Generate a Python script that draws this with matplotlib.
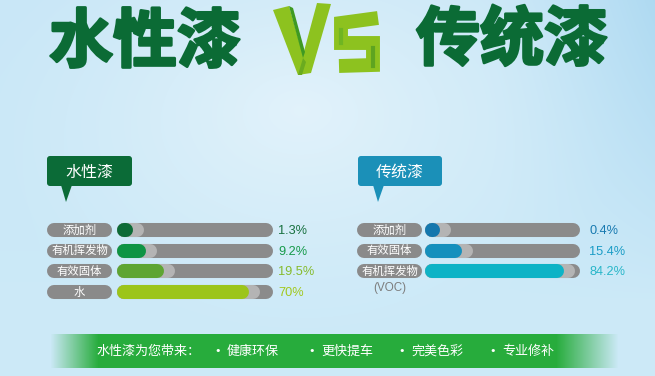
"""
Water-based paint vs traditional paint composition infographic
"""
import matplotlib.pyplot as plt
import matplotlib.patheffects as pe
import numpy as np
from matplotlib.patches import FancyBboxPatch, Polygon
from matplotlib.colors import to_rgb

plt.rcParams['font.family'] = ['Noto Sans CJK SC', 'DejaVu Sans']

W, H = 655, 376

# ---- data ----
water_labels = ['添加剂', '有机挥发物', '有效固体', '水']
water_values = [1.3, 9.2, 19.5, 70]
water_texts = ['1.3%', '9.2%', '19.5%', '70%']
water_colors = ['#0d6b37', '#0e9444', '#5ea532', '#9cc51a']
water_text_colors = ['#17703f', '#169a4a', '#86bb2c', '#a2c81c']

trad_labels = ['添加剂', '有效固体', '有机挥发物']
trad_values = [0.4, 15.4, 84.2]
trad_texts = ['0.4%', '15.4%', '84.2%']
trad_colors = ['#1477ad', '#1590bd', '#0db3c6']
trad_text_colors = ['#1779b0', '#1a9cc6', '#29b6c9']

benefits = ['健康环保', '更快提车', '完美色彩', '专业修补']

C = {
    'title': '#0b6b35', 'lime': '#8dc21f', 'lime_dk': '#3f9a22',
    'track': '#8b8b8b', 'shadow': '#b4b4b4', 'pill': '#8a8a8a',
    'green_box': '#0b6b37', 'blue_box': '#1b90b8', 'banner': '#27ac3c',
}

fig = plt.figure(figsize=(W / 100, H / 100), dpi=100)
bg = fig.add_axes([0, 0, 1, 1])
bg.set_xlim(0, W); bg.set_ylim(H, 0); bg.axis('off')

# background gradient
yy, xx = np.mgrid[0:H, 0:W]
top = np.array(to_rgb('#c9e7f7')); bot = np.array(to_rgb('#cdeaf8'))
img = top + (bot - top) * (yy / H)[..., None]
d = np.sqrt(((xx - 300) / 330) ** 2 + ((yy - 110) / 230) ** 2)
hl = np.clip(1 - d, 0, 1) ** 1.3 * 0.45
img = img + (1 - img) * hl[..., None]
rb = np.clip((xx - 480) / 175, 0, 1) ** 1.6 * np.clip(1 - yy / 300, 0, 1) * 0.7
img = img + (np.array(to_rgb('#a3d4ef')) - img) * rb[..., None]
bg.imshow(np.clip(img, 0, 1), extent=[0, W, H, 0], aspect='auto', zorder=0)

# titles
heavy = [pe.withStroke(linewidth=2, foreground=C['title'])]
bg.text(145, 43, '水性漆', fontsize=46, fontweight='bold', color=C['title'],
        ha='center', va='center', zorder=3, path_effects=heavy)
bg.text(512, 41, '传统漆', fontsize=46, fontweight='bold', color=C['title'],
        ha='center', va='center', zorder=3, path_effects=heavy)

# VS ribbon
bg.add_patch(Polygon([(273, 10), (289, 6), (303, 55), (317, 3), (331, 4), (311, 73), (298, 75)],
                     closed=True, facecolor=C['lime'], edgecolor='none', zorder=3))
bg.add_patch(Polygon([(289, 6), (293, 8), (305, 52), (303, 58)],
                     closed=True, facecolor=C['lime_dk'], edgecolor='none', zorder=4))
bg.add_patch(Polygon([(298, 75), (303, 58), (306, 62), (302, 75)],
                     closed=True, facecolor='#6aab1f', edgecolor='none', zorder=4))
bg.plot([378, 341, 341, 373, 373, 339], [18, 23, 43, 43, 65, 66], color=C['lime'],
        lw=10, solid_joinstyle='miter', solid_capstyle='butt', zorder=3)
bg.plot([341, 341], [30, 43], color='#6fb522', lw=3, zorder=4)
bg.plot([373, 373], [48, 66], color='#5ea420', lw=3, zorder=4)

# heading boxes
for (x0, x1, tip, col, txt) in [(47, 132, 66, C['green_box'], '水性漆'),
                                 (358, 442, 378, C['blue_box'], '传统漆')]:
    bg.add_patch(FancyBboxPatch((x0, 156), x1 - x0, 30, boxstyle='round,pad=0,rounding_size=3',
                                facecolor=col, edgecolor='none', zorder=3))
    bg.add_patch(Polygon([(tip - 5, 185), (tip + 6, 185), (tip, 202)], closed=True,
                         facecolor=col, edgecolor='none', zorder=3))
    bg.text((x0 + x1) / 2, 172, txt, fontsize=11.5, color='white', ha='center', va='center', zorder=4)


def panel(px_left, px_right, x0, scale, track_px, val_px, pill_px, labels, values, texts,
          colors, tcolors):
    ax = fig.add_axes([px_left / W, 1 - 305 / H, (px_right - px_left) / W, 90 / H])
    ax.set_xlim((px_left - x0) / scale, (px_right - x0) / scale)
    ax.set_ylim((305 - 230) / 20.67, (215 - 230) / 20.67)
    ax.axis('off'); ax.patch.set_alpha(0)
    lw = 10.1
    tmax = (track_px - 7 - x0) / scale
    p0, p1 = (pill_px[0] + 7 - x0) / scale, (pill_px[1] - 7 - x0) / scale
    for i, (lab, v, t, c, tc) in enumerate(zip(labels, values, texts, colors, tcolors)):
        ax.plot([p0, p1], [i, i], lw=lw, color=C['pill'], solid_capstyle='round')
        ax.text((p0 + p1) / 2, i, lab, fontsize=8.2, color='white', ha='center', va='center')
        ax.plot([0, tmax], [i, i], lw=lw, color=C['track'], solid_capstyle='round')
        ax.plot([0, v + 11 / scale], [i, i], lw=lw, color=C['shadow'], solid_capstyle='round')
        ax.plot([0, v], [i, i], lw=lw, color=c, solid_capstyle='round')
        ax.text((val_px - x0) / scale, i + 0.05, t, fontsize=9.2, color=tc, ha='left',
                va='center', family='Liberation Sans')
    return ax


panel(40, 320, 124, 1.68, 273, 278, (47, 112), water_labels, water_values, water_texts,
      water_colors, water_text_colors)
panel(350, 640, 432, 1.48, 580, 589, (357, 422), trad_labels, trad_values, trad_texts,
      trad_colors, trad_text_colors)
bg.text(390, 288, '(VOC)', fontsize=8.4, color='#7d7d7d', ha='center', va='center', zorder=3,
        family='Liberation Sans')

# bottom banner with faded ends
bx0, bx1 = 50, 618
xs = np.arange(bx0, bx1)
alpha = np.clip((xs - bx0) / 48, 0, 1) * np.clip((bx1 - xs) / 62, 0, 1)
band = np.zeros((1, len(xs), 4))
band[..., :3] = to_rgb(C['banner'])
band[..., 3] = alpha
bg.imshow(band, extent=[bx0, bx1, 368, 334], aspect='auto', zorder=2)

bg.text(97, 351, '水性漆为您带来：', fontsize=9.4, color='white', ha='left', va='center', zorder=3)
for bx, b in zip([218, 312, 402, 493], benefits):
    bg.text(bx, 351, '•', fontsize=8, color='white', ha='center', va='center', zorder=3,
            family='DejaVu Sans')
    bg.text(bx + 9, 351, b, fontsize=9.4, color='white', ha='left', va='center', zorder=3)

fig.savefig('out.png', dpi=100)
